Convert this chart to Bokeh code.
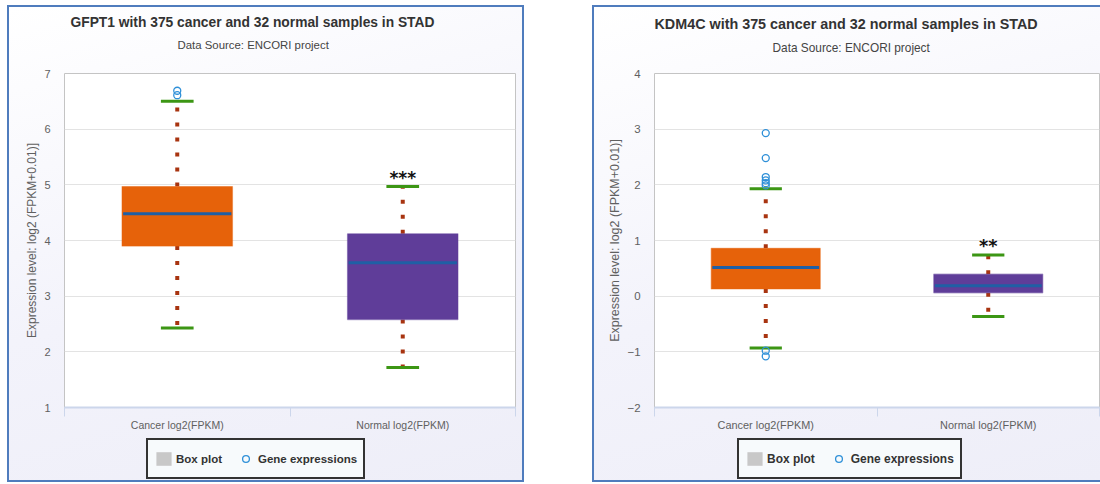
from bokeh.plotting import figure
from bokeh.models import (Range1d, FixedTicker, Title, Legend, LegendItem,
                          ColumnDataSource)
from bokeh.layouts import row, column
from bokeh.embed import file_html
from bokeh.resources import INLINE
from bokeh.core.properties import value

FONT = "Liberation Sans"

categories = ["Cancer log2(FPKM)", "Normal log2(FPKM)"]
subtitle_text = "Data Source: ENCORI project"
y_axis_title = "Expression level: log2 (FPKM+0.01)]"
legend_labels = ["Box plot", "Gene expressions"]
box_colors = ["#e6620a", "#5f3d99"]

# GFPT1 panel
gfpt1_title = "GFPT1 with 375 cancer and 32 normal samples in STAD"
gfpt1_low = [2.43, 1.72]
gfpt1_q1 = [3.90, 2.58]
gfpt1_median = [4.48, 3.60]
gfpt1_q3 = [4.97, 4.12]
gfpt1_high = [6.50, 4.97]
gfpt1_outlier_cat = [0, 0]
gfpt1_outlier_val = [6.61, 6.69]
gfpt1_significance = "***"
gfpt1_yticks = [1, 2, 3, 4, 5, 6, 7]

# KDM4C panel
kdm4c_title = "KDM4C with 375 cancer and 32 normal samples in STAD"
kdm4c_low = [-0.93, -0.365]
kdm4c_q1 = [0.13, 0.06]
kdm4c_median = [0.515, 0.185]
kdm4c_q3 = [0.86, 0.395]
kdm4c_high = [1.93, 0.74]
kdm4c_outlier_cat = [0, 0, 0, 0, 0, 0, 0, 0]
kdm4c_outlier_val = [2.93, 2.48, 2.14, 2.08, 2.03, 1.99, -0.98, -1.08]
kdm4c_significance = "**"
kdm4c_yticks = [-2, -1, 0, 1, 2, 3, 4]

STEM = "#a83410"
WHISKER = "#3c9614"
MEDIAN = "#1f5fa5"
OUTLIER = "#2f90d8"
LEGEND_BOX = "#c8c8c8"
BLUE_BORDER = "#4f7cbd"
GRADIENT = "linear-gradient(165deg, #ffffff 0%, #f3f3fb 55%, #eeeef8 100%)"


def make_panel(title, low, q1, med, q3, high, out_cat, out_val, sig, yticks,
               canvas_w, bl, br, title_off, sub_off, legend_x, fs, spacer,
               styles, margin):
    n = len(categories)
    p = figure(width=canvas_w, height=431, title=None,
               x_range=Range1d(0, n), y_range=Range1d(yticks[0], yticks[-1]),
               output_backend="svg", toolbar_location=None,
               min_border_left=bl, min_border_right=br,
               min_border_top=66, min_border_bottom=31)
    p.border_fill_color = None
    p.background_fill_color = "white"
    p.outline_line_color = "#c4c4c4"
    p.outline_line_width = 1

    centers = [i + 0.5 for i in range(n)]
    bounds = list(range(n + 1))

    # grid / axes
    p.xgrid.visible = False
    p.ygrid.ticker = FixedTicker(ticks=yticks)
    p.ygrid.grid_line_color = "#e3e3e3"

    p.yaxis.ticker = FixedTicker(ticks=yticks)
    p.yaxis.major_label_overrides = {t: str(t).replace("-", "\u2212") for t in yticks}
    p.yaxis.axis_line_color = None
    p.yaxis.major_tick_line_color = None
    p.yaxis.major_tick_out = 0
    p.yaxis.minor_tick_line_color = None
    p.yaxis.major_label_standoff = 14
    p.yaxis.major_label_text_font = FONT
    p.yaxis.major_label_text_font_size = f"{11 * fs}px"
    p.yaxis.major_label_text_color = "#606060"
    p.yaxis.axis_label = y_axis_title
    p.yaxis.axis_label_standoff = 2
    p.yaxis.axis_label_text_font = FONT
    p.yaxis.axis_label_text_font_style = "normal"
    p.yaxis.axis_label_text_font_size = f"{12 * fs}px"
    p.yaxis.axis_label_text_color = "#606060"

    p.xaxis.ticker = FixedTicker(ticks=centers, minor_ticks=bounds)
    p.xaxis.major_label_overrides = dict(zip(centers, categories))
    p.xaxis.axis_line_color = "#ccd6eb"
    p.xaxis.axis_line_width = 2
    p.xaxis.major_tick_line_color = None
    p.xaxis.major_tick_out = 0
    p.xaxis.major_tick_in = 0
    p.xaxis.minor_tick_line_color = "#ccd6eb"
    p.xaxis.minor_tick_out = 9
    p.xaxis.minor_tick_in = 0
    p.xaxis.major_label_standoff = 2
    p.xaxis.major_label_text_font = FONT
    p.xaxis.major_label_text_font_size = f"{10.5 * fs}px"
    p.xaxis.major_label_text_color = "#606060"

    # stems (dotted)
    p.segment(x0=centers, y0=q3, x1=centers, y1=high, line_color=STEM,
              line_width=4, line_dash="4 11")
    p.segment(x0=centers, y0=q1, x1=centers, y1=low, line_color=STEM,
              line_width=4, line_dash="4 11")
    # whiskers
    ww = 0.145
    p.segment(x0=[c - ww / 2 for c in centers], y0=high,
              x1=[c + ww / 2 for c in centers], y1=high,
              line_color=WHISKER, line_width=3)
    p.segment(x0=[c - ww / 2 for c in centers], y0=low,
              x1=[c + ww / 2 for c in centers], y1=low,
              line_color=WHISKER, line_width=3)
    # boxes
    p.vbar(x=centers, top=q3, bottom=q1, width=0.49, fill_color=box_colors,
           line_color=box_colors, line_alpha=0.45, line_width=1.2)
    # medians
    mw = 0.48
    p.segment(x0=[c - mw / 2 for c in centers], y0=med,
              x1=[c + mw / 2 for c in centers], y1=med,
              line_color=MEDIAN, line_width=3)
    # outliers
    p.scatter(x=[centers[c] for c in out_cat], y=out_val, marker="circle",
              size=7, fill_color=None, line_color=OUTLIER, line_width=1.3)
    # significance marker above the normal group
    p.text(x=[centers[1]], y=[high[1]], text=[sig], text_align="center",
           text_baseline="alphabetic", y_offset=-9,
           text_font=value("DejaVu Sans"), text_font_style="bold",
           text_font_size=value(f"{17 * fs}px"), text_color="#111111")

    # title stack (nearest to frame first): spacer, subtitle, title
    p.add_layout(Title(text=" ", text_font_size="1px", standoff=spacer), "above")
    p.add_layout(Title(text=subtitle_text, align="left", offset=sub_off,
                       vertical_align="bottom", standoff=4,
                       text_font=FONT, text_font_style="normal",
                       text_font_size=f"{11.4 * fs}px", text_color="#444444"), "above")
    p.add_layout(Title(text=title, align="left", offset=title_off,
                       vertical_align="bottom", standoff=10,
                       text_font=FONT, text_font_style="bold",
                       text_font_size=f"{13.8 * fs}px", text_color="#333333"), "above")

    # legend strip (separate small plot so that nothing is clipped)
    lg = figure(width=canvas_w, height=42, x_range=Range1d(0, 1), y_range=Range1d(0, 1),
                output_backend="svg", toolbar_location=None,
                x_axis_location=None, y_axis_location=None,
                min_border_left=0, min_border_right=0, min_border_top=0,
                min_border_bottom=0)
    lg.border_fill_color = None
    lg.background_fill_color = None
    lg.outline_line_color = None
    lg.grid.visible = False
    # legend proxies: one row placed outside the strip's range, so only the
    # legend swatches show
    proxy = ColumnDataSource(data=dict(x=[-1.0], y=[-1.0]))
    r_box = lg.rect(x="x", y="y", width=0.1, height=0.1, source=proxy,
                    fill_color=LEGEND_BOX, line_color=None)
    r_pt = lg.scatter(x="x", y="y", source=proxy, marker="circle", size=7,
                      fill_color=None, line_color=OUTLIER, line_width=1.3)
    legend = Legend(items=[LegendItem(label=legend_labels[0], renderers=[r_box]),
                           LegendItem(label=legend_labels[1], renderers=[r_pt])],
                    orientation="horizontal", location=(legend_x, 1),
                    glyph_width=19, glyph_height=17, label_standoff=3, spacing=14,
                    padding=6, margin=0, label_height=25,
                    label_text_font=FONT, label_text_font_style="bold",
                    label_text_font_size=f"{11.5 * fs}px", label_text_color="#333333",
                    border_line_color="#333333", border_line_width=2,
                    border_line_alpha=1.0,
                    background_fill_color="#f7fafc", background_fill_alpha=1)
    lg.add_layout(legend)

    col = column(p, lg, spacing=0)
    col.styles = styles
    col.margin = margin
    return col


left_styles = {"border": f"2px solid {BLUE_BORDER}", "background": GRADIENT}
right_styles = {"border-left": f"2px solid {BLUE_BORDER}",
                "border-top": f"2px solid {BLUE_BORDER}",
                "border-bottom": f"2px solid {BLUE_BORDER}",
                "background": GRADIENT}

c1 = make_panel(gfpt1_title, gfpt1_low, gfpt1_q1, gfpt1_median, gfpt1_q3, gfpt1_high,
                gfpt1_outlier_cat, gfpt1_outlier_val, gfpt1_significance, gfpt1_yticks,
                canvas_w=513, bl=55, br=7, title_off=6, sub_off=113, legend_x=82,
                fs=1.0, spacer=18, styles=left_styles, margin=(5, 0, 0, 7))
c2 = make_panel(kdm4c_title, kdm4c_low, kdm4c_q1, kdm4c_median, kdm4c_q3, kdm4c_high,
                kdm4c_outlier_cat, kdm4c_outlier_val, kdm4c_significance, kdm4c_yticks,
                canvas_w=506, bl=60, br=1, title_off=0, sub_off=118, legend_x=83,
                fs=1.04, spacer=14, styles=right_styles, margin=(5, 0, 0, 0))

layout = row(c1, c2, spacing=68)
open("out.html", "w").write(file_html(layout, INLINE))
